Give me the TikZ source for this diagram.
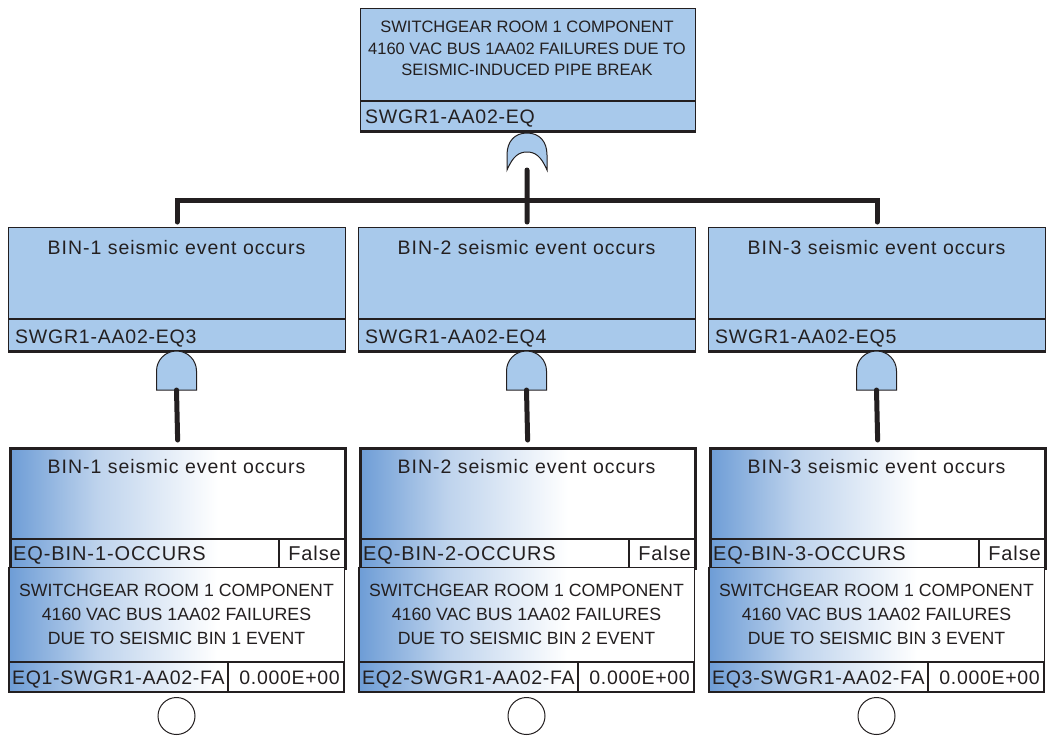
\documentclass[tikz,border=0pt]{standalone}
\usepackage{fontspec}
\setmainfont{Liberation Sans}
\definecolor{boxblue}{RGB}{168,201,235}
\definecolor{gdark}{RGB}{110,157,214}
\definecolor{txt}{RGB}{35,31,32}
\pgfdeclarehorizontalshading{bluefade}{100bp}{color(0bp)=(gdark); color(25bp)=(gdark); color(38bp)=(gdark!45!white); color(56bp)=(white); color(100bp)=(white)}
\newcommand{\fsT}{\fontsize{19.5}{19.5}\selectfont\addfontfeatures{LetterSpace=5}}
\newcommand{\fsI}{\fontsize{19.5}{19.5}\selectfont\addfontfeatures{LetterSpace=4}}
\newcommand{\fsE}{\fontsize{20}{20}\selectfont\addfontfeatures{LetterSpace=4.5}}
\newcommand{\fsB}{\fontsize{19.5}{19.5}\selectfont\addfontfeatures{LetterSpace=3.5}}
\begin{document}
\begin{tikzpicture}[x=1pt,y=-1pt,
  box/.style={draw=txt, line width=1.2pt, fill=boxblue, rectangle, inner sep=0pt, anchor=north west},
  evbox/.style={draw=txt, rectangle, inner sep=0pt, anchor=north west, shading=bluefade},
  conn/.style={line width=5pt, draw=txt, line cap=round, line join=miter},
  gate/.style={draw=txt, line width=1pt, fill=boxblue},
  lbl/.style={inner sep=0pt, text=txt},
  thinl/.style={draw=txt, line width=1.2pt},
  thickl/.style={draw=txt, line width=2.6pt}]
\useasboundingbox (0,0) rectangle (1049,736);

% top gate box
\node[box, minimum width=335pt, minimum height=122pt] (top) at (360,8) {};
\draw[thinl] (360,101) -- (695,101);
\draw[thickl] ([yshift=-0.5pt]top.south west) -- ([yshift=-0.5pt]top.south east);
\node[lbl, font=\fontsize{16.5}{21.5}\selectfont, align=center, anchor=north] (toptext) at (527,21)
  {SWITCHGEAR ROOM 1 COMPONENT\\4160 VAC BUS 1AA02 FAILURES DUE TO\\SEISMIC-INDUCED PIPE BREAK};
\node[lbl, font=\fsI, anchor=base west] (topid) at (365,123) {SWGR1-AA02-EQ};

% OR gate
\draw[gate] (507,170) -- (507,155) .. controls (507,141) and (515,133) .. (527,133)
  .. controls (539,133) and (547,141) .. (547,155) -- (547,170)
  .. controls (541,156) and (535,152) .. (527,152)
  .. controls (519,152) and (513,156) .. (507,170) -- cycle;
\coordinate (or0) at (527,170);

\foreach \i/\cx/\xl in {1/176.5/8, 2/526.5/358, 3/876.5/708}{
  \pgfmathtruncatemacro\k{\i+2}
  % middle gate boxes
  \node[box, minimum width=337pt, minimum height=123pt] (m\i) at (\xl,227) {};
  \draw[thinl] (\xl,319) -- (\xl+337,319);
  \draw[thickl] ([yshift=-0.5pt]m\i.south west) -- ([yshift=-0.5pt]m\i.south east);
  \node[lbl, font=\fsT, anchor=base] (mt\i) at (\cx,254) {BIN-\i\ seismic event occurs};
  \node[lbl, font=\fsI, anchor=base west] (mid\i) at (\xl+7,343) {SWGR1-AA02-EQ\k};
  % AND gate
  \draw[gate] (\cx-20,390) -- (\cx-20,371) arc[start angle=180, end angle=360, radius=20] -- (\cx+20,390) -- cycle;
  \coordinate (ag\i) at (\cx,390);
  % house event
  \node[evbox, line width=2.6pt, minimum width=335pt, minimum height=120pt] (h\i) at (\xl+1,447) {};
  \draw[thickl] (\xl+1,539) -- (\xl+336,539);
  \draw[thinl] (\xl+271,539) -- (\xl+271,567);
  \node[lbl, font=\fsT, anchor=base] (ht\i) at (\cx,473) {BIN-\i\ seismic event occurs};
  \node[lbl, font=\fsE, anchor=base west] (hid\i) at (\xl+5,560) {EQ-BIN-\i-OCCURS};
  \node[lbl, font=\fsE, anchor=base east] (hv\i) at (\xl+333,560) {False};
  \draw[conn, shorten >=7pt] (ag\i) -- (h\i.north);
  % basic event
  \node[evbox, line width=1.2pt, minimum width=335pt, minimum height=125pt] (b\i) at (\xl+1,567) {};
  \draw[thickl] (\xl+1,567) -- (\xl+1,692);
  \draw[thickl] (\xl+1,662) rectangle (\xl+336,692);
  \draw[thinl] (\xl+220,662) -- (\xl+220,692);
  \node[lbl, font=\fontsize{17.7}{24}\selectfont, align=center, anchor=north] (bt\i) at (\cx,584)
    {SWITCHGEAR ROOM 1 COMPONENT\\4160 VAC BUS 1AA02 FAILURES\\DUE TO SEISMIC BIN \i\ EVENT};
  \node[lbl, font=\fsB, anchor=base west] (bid\i) at (\xl+4,684) {EQ\i-SWGR1-AA02-FA};
  \node[lbl, font=\fsB, anchor=base east] (bv\i) at (\xl+332,684) {0.000E+00};
  \node[draw=txt, line width=1pt, circle, minimum size=37pt, inner sep=0pt, fill=white] (c\i) at (\cx,716) {};
}

% connectors
\draw[conn, shorten <=5pt, shorten >=5pt] (m1.north) -- ++(0,-27) -| (m3.north);
\draw[conn, shorten >=5pt] (or0) -- (m2.north);
\end{tikzpicture}
\end{document}
